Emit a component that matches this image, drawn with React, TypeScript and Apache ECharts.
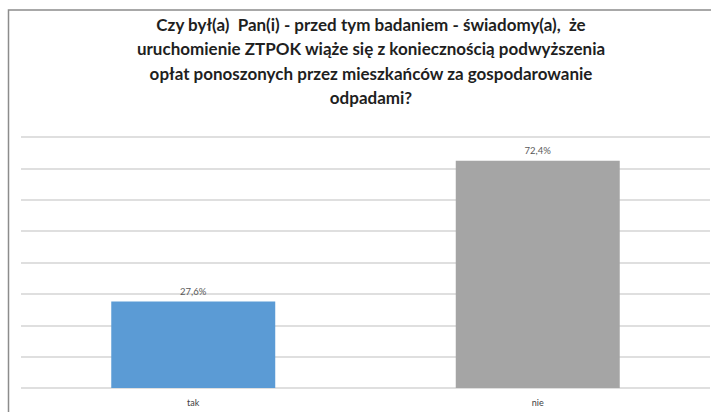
import React, { useEffect, useRef } from "react";
import * as echarts from "echarts";

const categories = ["tak", "nie"];
const values = [27.6, 72.4];
const barColors = ["#5B9BD5", "#A5A5A5"];
const titleLines = [
  "Czy był(a)  Pan(i) - przed tym badaniem - świadomy(a),  że",
  "uruchomienie ZTPOK wiąże się z koniecznością podwyższenia",
  "opłat ponoszonych przez mieszkańców za gospodarowanie",
  "odpadami?",
];

export default function App() {
  const ref = useRef<HTMLDivElement>(null);
  useEffect(() => {
    if (!ref.current) return;
    const chart = echarts.init(ref.current, null, { renderer: "svg" });
    chart.setOption({
      animation: false,
      backgroundColor: "#ffffff",
      title: {
        text: titleLines.join("\n"),
        left: 366,
        top: 7,
        textAlign: "center",
        textStyle: {
          fontFamily: "Lato",
          fontWeight: "bold",
          fontSize: 17,
          lineHeight: 24.5,
          color: "#1f1f1f",
        },
      },
      graphic: [
        {
          type: "rect",
          shape: { x: 8.5, y: 10, width: 760, height: 460 },
          style: { fill: "none", stroke: "#8c8c8c", lineWidth: 1.5 },
          silent: true,
        },
      ],
      grid: { left: 21, right: 1, top: 137, bottom: 24, containLabel: false },
      xAxis: {
        type: "category",
        data: categories,
        axisLine: { show: false },
        axisTick: { show: false },
        axisLabel: {
          margin: 10,
          fontSize: 9,
          fontFamily: "Lato",
          color: "#404040",
        },
      },
      yAxis: {
        type: "value",
        min: 0,
        max: 80,
        interval: 10,
        axisLabel: { show: false },
        axisLine: { show: false },
        axisTick: { show: false },
        splitLine: { lineStyle: { color: "#d4d4d4", width: 1.5 } },
      },
      series: [
        {
          type: "bar",
          barWidth: "47.6%",
          data: values.map((v, i) => ({
            value: v,
            itemStyle: { color: barColors[i] },
          })),
          label: {
            show: true,
            position: "top",
            distance: 5,
            fontSize: 9.5,
            fontFamily: "Lato",
            color: "#595959",
            formatter: (p: any) => String(p.value).replace(".", ",") + "%",
          },
        },
      ],
    });
    return () => chart.dispose();
  }, []);
  return (
    <div
      ref={ref}
      style={{ position: "fixed", left: 0, top: 0, width: 711, height: 412 }}
    />
  );
}
